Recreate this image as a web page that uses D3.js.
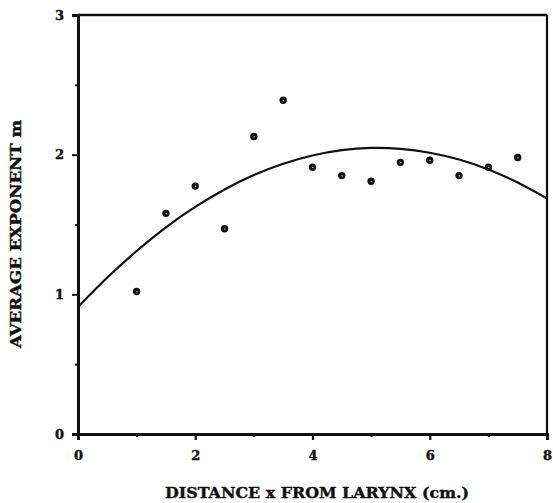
<!DOCTYPE html>
<html>
<head>
<meta charset="utf-8">
<script src="https://cdn.jsdelivr.net/npm/d3@7"></script>
<style>
  html, body { margin: 0; padding: 0; background: #fff; }
  svg { display: block; }
  text { font-family: "DejaVu Serif", "Liberation Serif", serif; font-weight: bold; fill: #111; }
</style>
</head>
<body>
<svg id="chart" width="553" height="503"></svg>
<script>
// Measured points: distance x (cm) and average exponent m
const distX = [1, 1.5, 2, 2.5, 3, 3.5, 4, 4.5, 5, 5.5, 6, 6.5, 7, 7.5];
const exponentM = [1.02, 1.58, 1.775, 1.47, 2.13, 2.39, 1.91, 1.85, 1.81, 1.945, 1.96, 1.85, 1.91, 1.98];

// Fitted curve
const curveX = [0, 0.5, 1, 1.5, 2, 2.5, 3, 3.5, 4, 4.5, 5, 5.5, 6, 6.5, 7, 7.5, 8];
const curveY = [0.91, 1.12, 1.31, 1.48, 1.626, 1.751, 1.854, 1.935, 1.994, 2.032, 2.048, 2.042, 2.014, 1.965, 1.894, 1.80, 1.686];

const xMajorTicks = [0, 2, 4, 6, 8];
const xMinorTicks = [1, 3, 5, 7];
const yMajorTicks = [0, 1, 2, 3];
const yMinorTicks = [0.5, 1.5, 2.5];

const xTitle = "DISTANCE x FROM LARYNX (cm.)";
const yTitle = "AVERAGE EXPONENT m";

const svg = d3.select("#chart");
const x = d3.scaleLinear().domain([0, 8]).range([78, 547]);
const y = d3.scaleLinear().domain([0, 3]).range([434, 15]);

// Frame: top and right
svg.append("line").attr("x1", x(0)).attr("x2", x(8)).attr("y1", y(3)).attr("y2", y(3))
  .attr("stroke", "#111").attr("stroke-width", 2.5);
svg.append("line").attr("x1", x(8)).attr("x2", x(8)).attr("y1", y(3)).attr("y2", y(0))
  .attr("stroke", "#111").attr("stroke-width", 2.2);

// Bottom axis
const xAxis = svg.append("g").attr("transform", `translate(0,${y(0)})`)
  .call(d3.axisBottom(x).tickValues(xMajorTicks).tickSize(6).tickPadding(11).tickFormat(d3.format("d")));
xAxis.select(".domain").attr("stroke", "#111").attr("stroke-width", 3);
xAxis.selectAll(".tick line").attr("stroke", "#111").attr("stroke-width", 2.2);
xAxis.selectAll(".tick text").attr("font-size", 13).attr("font-family", "DejaVu Serif").attr("font-weight", "bold")
  .attr("fill", "#111").attr("stroke", "#111").attr("stroke-width", 0.4);
svg.append("g").attr("transform", `translate(0,${y(0)})`)
  .call(d3.axisBottom(x).tickValues(xMinorTicks).tickSize(3).tickFormat(""))
  .call(g => g.select(".domain").remove())
  .selectAll(".tick line").attr("stroke", "#111").attr("stroke-width", 2);

// Left axis
const yAxis = svg.append("g").attr("transform", `translate(${x(0)},0)`)
  .call(d3.axisLeft(y).tickValues(yMajorTicks).tickSize(6).tickPadding(8).tickFormat(d3.format("d")));
yAxis.select(".domain").attr("stroke", "#111").attr("stroke-width", 3);
yAxis.selectAll(".tick line").attr("stroke", "#111").attr("stroke-width", 2);
yAxis.selectAll(".tick text").attr("font-size", 13).attr("font-family", "DejaVu Serif").attr("font-weight", "bold")
  .attr("fill", "#111").attr("stroke", "#111").attr("stroke-width", 0.4);
svg.append("g").attr("transform", `translate(${x(0)},0)`)
  .call(d3.axisLeft(y).tickValues(yMinorTicks).tickSize(3).tickFormat(""))
  .call(g => g.select(".domain").remove())
  .selectAll(".tick line").attr("stroke", "#111").attr("stroke-width", 2);

// Fitted curve
const curveData = curveX.map((v, i) => [v, curveY[i]]);
svg.append("path").datum(curveData)
  .attr("fill", "none").attr("stroke", "#111").attr("stroke-width", 2.2)
  .attr("d", d3.line().x(d => x(d[0])).y(d => y(d[1])).curve(d3.curveNatural));

// Data points
const pts = distX.map((v, i) => [v, exponentM[i]]);
svg.append("g").selectAll("circle").data(pts).join("circle")
  .attr("cx", d => x(d[0])).attr("cy", d => y(d[1])).attr("r", 3.7)
  .attr("fill", "#111");
svg.append("g").selectAll("circle").data(pts).join("circle")
  .attr("cx", d => x(d[0]) + 0.3).attr("cy", d => y(d[1]) + 0.3).attr("r", 0.8)
  .attr("fill", "#bbb");

// Titles
svg.append("text").attr("x", 317).attr("y", 498).attr("text-anchor", "middle")
  .attr("font-size", 15).attr("textLength", 304).attr("lengthAdjust", "spacingAndGlyphs")
  .attr("stroke", "#111").attr("stroke-width", 0.4)
  .text(xTitle);
svg.append("text").attr("transform", "translate(21,234) rotate(-90)").attr("text-anchor", "middle")
  .attr("font-size", 15).attr("textLength", 228).attr("lengthAdjust", "spacingAndGlyphs")
  .attr("stroke", "#111").attr("stroke-width", 0.4)
  .text(yTitle);
</script>
</body>
</html>
